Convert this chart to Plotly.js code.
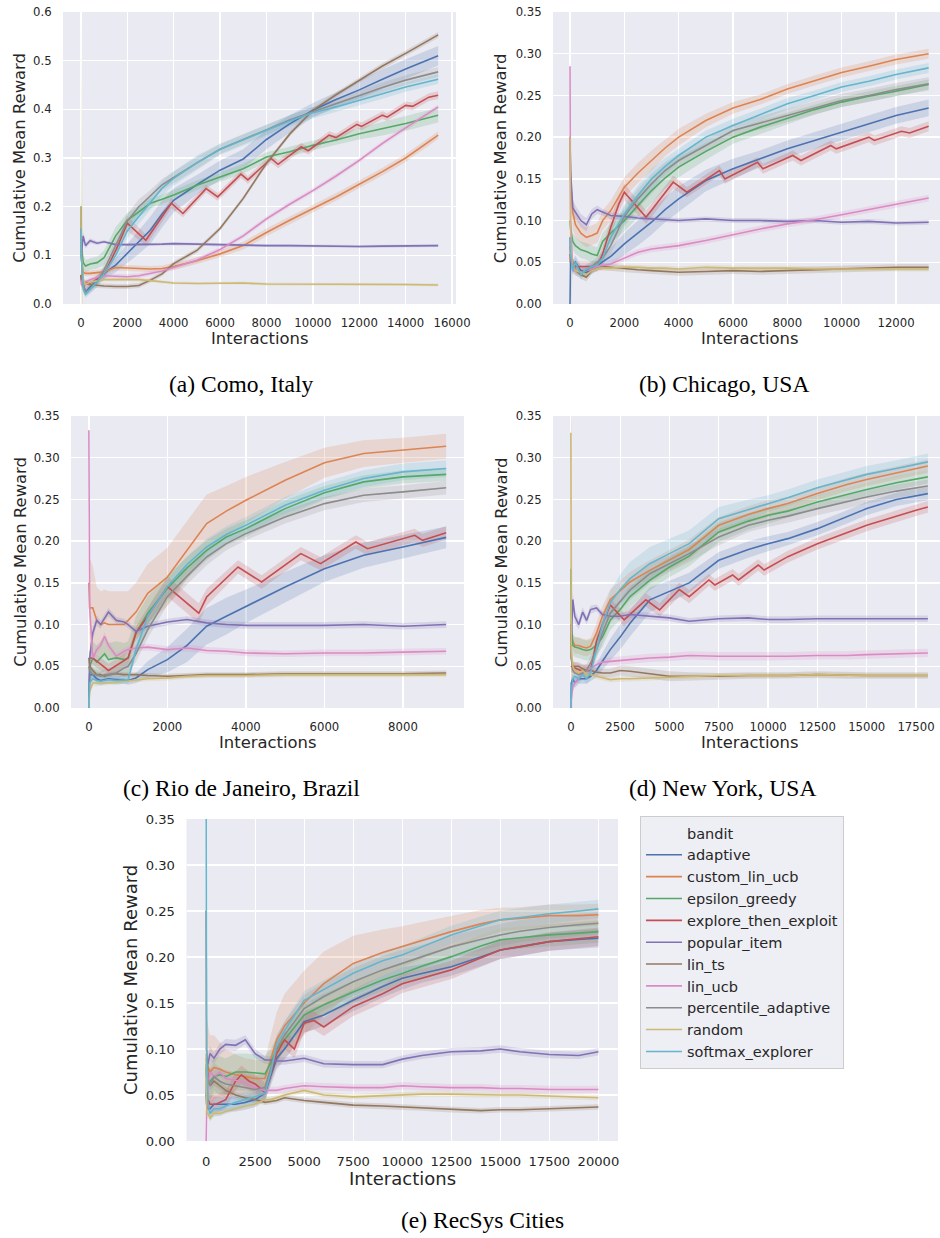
<!DOCTYPE html>
<html><head><meta charset="utf-8">
<script src="https://cdn.plot.ly/plotly-3.0.1.min.js"></script>
<style>html,body{margin:0;padding:0;background:#fff}</style>
</head><body><div id="chart" style="width:940px;height:1238px"></div>
<script>
// ---------------- series names ----------------
const SERIES = ['adaptive','custom_lin_ucb','epsilon_greedy','explore_then_exploit','popular_item','lin_ts','lin_ucb','percentile_adaptive','random','softmax_explorer'];
const LEGEND_TITLE = 'bandit';

// ---------------- (a) Como, Italy ----------------
const como_x = [0,20,100,200,400,700,1000,1500,2000,2500,3000,3500,4000,5000,6000,7000,8000,9000,10000,11000,12000,13000,14000,15400];
const como_adaptive = [0.15,0.10,0.04,0.025,0.035,0.05,0.063,0.08,0.104,0.128,0.152,0.185,0.213,0.245,0.275,0.298,0.338,0.37,0.398,0.42,0.44,0.462,0.483,0.51];
const como_adaptive_ci = [0.02,0.02,0.008,0.008,0.008,0.01,0.012,0.015,0.02,0.025,0.028,0.028,0.025,0.02,0.02,0.02,0.02,0.018,0.015,0.015,0.018,0.02,0.02,0.02];
const como_custom_lin_ucb = [0.2,0.1,0.065,0.063,0.063,0.064,0.066,0.075,0.074,0.073,0.072,0.073,0.077,0.089,0.103,0.12,0.147,0.172,0.196,0.22,0.246,0.272,0.3,0.347];
const como_custom_lin_ucb_ci = [0.01,0.008,0.006,0.006,0.006,0.006,0.006,0.006,0.006,0.006,0.006,0.006,0.007,0.007,0.007,0.008,0.008,0.008,0.008,0.008,0.008,0.008,0.008,0.008];
const como_epsilon_greedy = [0.2,0.12,0.085,0.078,0.082,0.085,0.095,0.14,0.172,0.19,0.207,0.215,0.224,0.244,0.261,0.278,0.302,0.313,0.326,0.337,0.35,0.36,0.371,0.388];
const como_epsilon_greedy_ci = [0.15,0.1,0.015,0.012,0.012,0.012,0.015,0.018,0.015,0.012,0.01,0.01,0.01,0.01,0.01,0.01,0.01,0.01,0.01,0.01,0.012,0.014,0.015,0.015];
const como_ete_x = [0,20,200,500,1000,1300,1600,2000,2800,3900,4400,5400,5900,6900,7200,8200,8500,9500,9800,10700,11000,11900,12100,13000,13200,14000,14300,15000,15400];
const como_explore_then_exploit = [0.06,0.05,0.04,0.045,0.06,0.09,0.12,0.166,0.131,0.207,0.186,0.237,0.22,0.267,0.255,0.299,0.287,0.323,0.315,0.347,0.342,0.369,0.365,0.388,0.384,0.408,0.406,0.425,0.429];
const como_explore_then_exploit_ci = [0.01,0.01,0.008,0.008,0.008,0.01,0.012,0.015,0.012,0.01,0.008,0.008,0.008,0.008,0.008,0.008,0.008,0.008,0.008,0.008,0.008,0.008,0.008,0.008,0.008,0.008,0.008,0.008,0.008];
const como_popular_item = [0.15,0.1,0.14,0.12,0.13,0.125,0.128,0.122,0.122,0.122,0.122,0.123,0.124,0.123,0.121,0.121,0.12,0.12,0.119,0.119,0.118,0.119,0.119,0.12];
const como_popular_item_ci = [0.01,0.01,0.008,0.006,0.005,0.004,0.003,0.003,0.003,0.003,0.003,0.003,0.003,0.003,0.003,0.003,0.003,0.003,0.003,0.003,0.003,0.003,0.003,0.003];
const como_lin_ts = [0.06,0.05,0.035,0.045,0.04,0.038,0.037,0.036,0.036,0.038,0.049,0.062,0.083,0.11,0.155,0.217,0.289,0.349,0.398,0.43,0.46,0.489,0.515,0.553];
const como_lin_ts_ci = [0.01,0.008,0.006,0.005,0.005,0.005,0.005,0.005,0.005,0.005,0.005,0.005,0.005,0.005,0.005,0.005,0.005,0.005,0.005,0.005,0.005,0.006,0.006,0.006];
const como_lin_ucb = [0.05,0.04,0.035,0.045,0.05,0.055,0.058,0.057,0.056,0.058,0.063,0.068,0.075,0.09,0.112,0.14,0.175,0.205,0.233,0.263,0.295,0.33,0.362,0.405];
const como_lin_ucb_ci = [0.01,0.006,0.005,0.005,0.005,0.005,0.005,0.005,0.005,0.005,0.005,0.005,0.005,0.005,0.005,0.005,0.005,0.005,0.005,0.005,0.005,0.005,0.005,0.005];
const como_percentile_adaptive = [0.2,0.1,0.04,0.025,0.03,0.045,0.07,0.12,0.17,0.2,0.222,0.245,0.26,0.29,0.318,0.338,0.358,0.378,0.395,0.412,0.428,0.445,0.46,0.477];
const como_percentile_adaptive_ci = [0.07,0.05,0.01,0.008,0.008,0.01,0.012,0.015,0.015,0.015,0.012,0.012,0.012,0.012,0.01,0.01,0.01,0.01,0.01,0.01,0.01,0.01,0.01,0.01];
const como_random = [0.2,0.1,0.05,0.04,0.045,0.048,0.05,0.05,0.05,0.05,0.048,0.045,0.043,0.042,0.043,0.043,0.041,0.041,0.04,0.04,0.04,0.04,0.04,0.039];
const como_random_ci = [0.4,0.4,0.01,0.006,0.005,0.004,0.004,0.004,0.004,0.004,0.003,0.003,0.003,0.003,0.003,0.003,0.003,0.003,0.003,0.003,0.003,0.003,0.003,0.003];
const como_softmax_explorer = [0.155,0.1,0.03,0.02,0.03,0.045,0.062,0.1,0.15,0.18,0.21,0.238,0.258,0.29,0.318,0.338,0.357,0.376,0.393,0.405,0.418,0.432,0.446,0.462];
const como_softmax_explorer_ci = [0.01,0.01,0.008,0.008,0.008,0.01,0.012,0.015,0.015,0.015,0.015,0.015,0.015,0.015,0.012,0.012,0.012,0.012,0.012,0.01,0.01,0.01,0.01,0.01];

// ---------------- (b) Chicago, USA ----------------
const chi_x = [0,20,100,200,400,600,800,1000,1200,1500,2000,2500,3000,3500,4000,5000,6000,7000,8000,9000,10000,11000,12000,13200];
const chi_adaptive = [0.0,0.06,0.045,0.05,0.04,0.038,0.042,0.046,0.05,0.057,0.072,0.085,0.098,0.113,0.126,0.148,0.162,0.174,0.186,0.196,0.206,0.216,0.226,0.235];
const chi_adaptive_ci = [0.005,0.01,0.008,0.008,0.006,0.006,0.006,0.006,0.008,0.01,0.013,0.015,0.015,0.015,0.015,0.013,0.012,0.01,0.01,0.01,0.01,0.01,0.01,0.01];
const chi_custom_lin_ucb = [0.2,0.15,0.11,0.095,0.085,0.08,0.082,0.085,0.1,0.112,0.14,0.157,0.172,0.187,0.2,0.22,0.235,0.245,0.2576,0.268,0.2775,0.285,0.293,0.30];
const chi_custom_lin_ucb_ci = [0.05,0.03,0.02,0.015,0.012,0.012,0.012,0.012,0.012,0.012,0.012,0.012,0.012,0.01,0.01,0.008,0.007,0.006,0.006,0.006,0.006,0.006,0.006,0.006];
const chi_epsilon_greedy = [0.1,0.09,0.075,0.07,0.065,0.063,0.06,0.058,0.075,0.085,0.1,0.118,0.136,0.151,0.164,0.183,0.2,0.212,0.2226,0.233,0.242,0.249,0.255,0.263];
const chi_epsilon_greedy_ci = [0.02,0.015,0.01,0.01,0.01,0.01,0.01,0.01,0.01,0.012,0.013,0.015,0.015,0.013,0.012,0.01,0.008,0.008,0.007,0.006,0.006,0.006,0.006,0.006];
const chi_ete_x = [0,20,200,500,1000,1200,1500,1800,2000,2800,3800,4300,5500,5700,6900,7100,8200,8500,9600,9800,11000,11200,12200,12500,13200];
const chi_explore_then_exploit = [0.06,0.05,0.045,0.045,0.045,0.06,0.092,0.12,0.134,0.104,0.146,0.134,0.16,0.15,0.17,0.162,0.178,0.172,0.19,0.186,0.2,0.196,0.207,0.205,0.213];
const chi_explore_then_exploit_ci = [0.01,0.008,0.006,0.006,0.006,0.008,0.01,0.01,0.01,0.008,0.008,0.006,0.006,0.006,0.006,0.006,0.006,0.006,0.006,0.006,0.006,0.006,0.006,0.006,0.006];
const chi_popular_item = [0.2,0.16,0.115,0.11,0.1,0.095,0.108,0.113,0.11,0.106,0.105,0.103,0.102,0.101,0.1,0.102,0.1,0.1,0.099,0.1,0.098,0.099,0.097,0.098];
const chi_popular_item_ci = [0.02,0.015,0.01,0.008,0.008,0.008,0.006,0.005,0.004,0.004,0.003,0.003,0.003,0.003,0.003,0.003,0.003,0.003,0.003,0.003,0.003,0.003,0.003,0.003];
const chi_lin_ts = [0.08,0.06,0.05,0.04,0.035,0.032,0.04,0.045,0.045,0.044,0.042,0.041,0.04,0.039,0.038,0.039,0.04,0.039,0.04,0.041,0.042,0.043,0.044,0.044];
const chi_lin_ts_ci = [0.01,0.006,0.005,0.005,0.005,0.005,0.004,0.004,0.004,0.004,0.004,0.004,0.004,0.004,0.004,0.004,0.004,0.004,0.004,0.004,0.004,0.004,0.004,0.004];
const chi_lin_ucb = [0.285,0.1,0.04,0.04,0.038,0.04,0.042,0.045,0.046,0.048,0.055,0.062,0.066,0.068,0.07,0.076,0.083,0.09,0.096,0.101,0.107,0.113,0.119,0.127];
const chi_lin_ucb_ci = [0.01,0.006,0.005,0.004,0.004,0.004,0.004,0.004,0.004,0.004,0.004,0.004,0.004,0.004,0.004,0.004,0.004,0.004,0.004,0.004,0.004,0.004,0.004,0.004];
const chi_percentile_adaptive = [0.07,0.06,0.045,0.04,0.038,0.04,0.045,0.05,0.055,0.07,0.105,0.126,0.144,0.16,0.172,0.19,0.208,0.217,0.226,0.235,0.244,0.25,0.257,0.264];
const chi_percentile_adaptive_ci = [0.01,0.008,0.006,0.006,0.006,0.006,0.006,0.006,0.008,0.01,0.012,0.012,0.012,0.01,0.008,0.008,0.008,0.008,0.008,0.008,0.008,0.008,0.008,0.008];
const chi_random = [0.2,0.07,0.045,0.04,0.038,0.035,0.04,0.042,0.043,0.043,0.044,0.044,0.043,0.043,0.042,0.044,0.043,0.043,0.043,0.042,0.042,0.042,0.042,0.042];
const chi_random_ci = [0.1,0.1,0.005,0.004,0.004,0.004,0.003,0.003,0.003,0.003,0.003,0.003,0.003,0.003,0.003,0.003,0.003,0.003,0.003,0.003,0.003,0.003,0.003,0.003];
const chi_softmax_explorer = [0.08,0.06,0.04,0.05,0.035,0.042,0.045,0.046,0.055,0.08,0.108,0.13,0.15,0.165,0.178,0.2,0.214,0.227,0.24,0.25,0.26,0.267,0.275,0.283];
const chi_softmax_explorer_ci = [0.01,0.008,0.006,0.006,0.006,0.006,0.006,0.006,0.008,0.01,0.012,0.012,0.012,0.01,0.008,0.008,0.008,0.007,0.007,0.006,0.006,0.006,0.006,0.006];

// ---------------- (c) Rio de Janeiro, Brazil ----------------
const rio_x = [0,20,100,200,300,400,500,700,900,1000,1200,1500,2000,2500,3000,3500,4000,5000,6000,7000,8000,9100];
const rio_adaptive = [0.0,0.04,0.04,0.035,0.033,0.034,0.035,0.034,0.034,0.033,0.036,0.046,0.058,0.075,0.098,0.11,0.122,0.145,0.167,0.183,0.193,0.2045];
const rio_adaptive_ci = [0.005,0.006,0.005,0.005,0.005,0.005,0.005,0.005,0.005,0.005,0.006,0.01,0.015,0.02,0.022,0.022,0.02,0.018,0.016,0.015,0.014,0.013];
const rio_custom_lin_ucb = [0.15,0.12,0.12,0.105,0.1,0.102,0.1,0.1,0.1,0.105,0.115,0.1375,0.157,0.189,0.221,0.236,0.249,0.273,0.294,0.305,0.309,0.3137];
const rio_custom_lin_ucb_ci = [0.035,0.06,0.05,0.04,0.04,0.04,0.04,0.04,0.04,0.035,0.035,0.035,0.035,0.035,0.035,0.03,0.028,0.022,0.018,0.016,0.015,0.015];
const rio_epsilon_greedy = [0.0,0.05,0.06,0.055,0.06,0.065,0.058,0.06,0.058,0.06,0.09,0.1136,0.1435,0.168,0.189,0.205,0.215,0.239,0.258,0.271,0.277,0.28];
const rio_epsilon_greedy_ci = [0.01,0.02,0.02,0.02,0.02,0.02,0.02,0.02,0.02,0.02,0.02,0.02,0.015,0.013,0.012,0.01,0.01,0.01,0.008,0.008,0.008,0.008];
const rio_ete_x = [0,100,500,1000,1200,1500,2000,2800,3000,3800,4400,5400,5900,6800,7100,8300,8500,9100];
const rio_explore_then_exploit = [0.06,0.06,0.045,0.06,0.09,0.11,0.1455,0.1136,0.133,0.169,0.151,0.185,0.173,0.199,0.191,0.207,0.201,0.21];
const rio_explore_then_exploit_ci = [0.008,0.008,0.008,0.008,0.008,0.01,0.012,0.012,0.01,0.008,0.008,0.008,0.008,0.008,0.008,0.008,0.008,0.008];
const rio_popular_item = [0.0,0.06,0.09,0.105,0.1,0.108,0.115,0.105,0.103,0.1,0.092,0.098,0.103,0.106,0.102,0.1,0.099,0.099,0.099,0.1,0.098,0.1];
const rio_popular_item_ci = [0.005,0.008,0.008,0.006,0.005,0.005,0.005,0.004,0.004,0.004,0.004,0.004,0.004,0.004,0.004,0.004,0.004,0.004,0.004,0.004,0.004,0.004];
const rio_lin_ts = [0.06,0.05,0.045,0.04,0.04,0.038,0.04,0.041,0.04,0.04,0.04,0.039,0.038,0.039,0.04,0.04,0.04,0.041,0.041,0.041,0.041,0.042];
const rio_lin_ts_ci = [0.005,0.005,0.004,0.003,0.003,0.003,0.003,0.003,0.003,0.003,0.003,0.003,0.003,0.003,0.003,0.003,0.003,0.003,0.003,0.003,0.003,0.003];
const rio_lin_ucb = [0.333,0.12,0.06,0.07,0.075,0.086,0.075,0.062,0.068,0.07,0.072,0.073,0.07,0.072,0.069,0.068,0.066,0.065,0.066,0.066,0.067,0.068];
const rio_lin_ucb_ci = [0.005,0.01,0.006,0.005,0.005,0.005,0.005,0.004,0.004,0.004,0.004,0.004,0.004,0.004,0.004,0.004,0.004,0.004,0.004,0.004,0.004,0.004];
const rio_percentile_adaptive = [0.05,0.045,0.04,0.04,0.038,0.04,0.04,0.042,0.048,0.05,0.065,0.094,0.1335,0.158,0.181,0.197,0.209,0.229,0.245,0.255,0.259,0.264];
const rio_percentile_adaptive_ci = [0.006,0.006,0.006,0.006,0.006,0.006,0.006,0.008,0.008,0.008,0.01,0.01,0.01,0.01,0.01,0.008,0.008,0.008,0.008,0.008,0.008,0.008];
const rio_random = [0.0,0.02,0.03,0.03,0.03,0.03,0.03,0.031,0.032,0.033,0.034,0.035,0.036,0.038,0.039,0.039,0.039,0.04,0.04,0.04,0.04,0.04];
const rio_random_ci = [0.003,0.005,0.004,0.004,0.003,0.003,0.003,0.003,0.003,0.003,0.003,0.003,0.003,0.003,0.003,0.003,0.003,0.003,0.003,0.003,0.003,0.003];
const rio_softmax_explorer = [0.0,0.03,0.035,0.033,0.032,0.033,0.034,0.033,0.034,0.034,0.07,0.11,0.1455,0.172,0.193,0.208,0.219,0.243,0.261,0.275,0.283,0.287];
const rio_softmax_explorer_ci = [0.005,0.005,0.005,0.005,0.005,0.005,0.005,0.005,0.005,0.005,0.008,0.01,0.01,0.01,0.01,0.01,0.01,0.01,0.01,0.01,0.01,0.01];

// ---------------- (d) New York, USA ----------------
const ny_x = [0,20,100,200,400,600,800,1000,1300,1600,2000,2500,3000,4000,5000,6000,7500,9000,10000,11000,12500,14000,15000,16500,18100];
const ny_adaptive = [0.0,0.03,0.035,0.03,0.035,0.035,0.035,0.038,0.045,0.056,0.07,0.085,0.1016,0.1296,0.1395,0.15,0.177,0.19,0.197,0.203,0.215,0.229,0.239,0.25,0.257];
const ny_adaptive_ci = [0.005,0.006,0.006,0.006,0.006,0.006,0.006,0.006,0.008,0.01,0.013,0.015,0.016,0.015,0.013,0.012,0.01,0.01,0.009,0.008,0.008,0.008,0.008,0.008,0.008];
const ny_custom_lin_ucb = [0.1,0.09,0.08,0.075,0.075,0.073,0.072,0.074,0.09,0.11,0.13,0.14,0.151,0.165,0.177,0.19,0.219,0.232,0.239,0.245,0.257,0.268,0.274,0.282,0.29];
const ny_custom_lin_ucb_ci = [0.25,0.25,0.01,0.01,0.01,0.01,0.01,0.01,0.012,0.012,0.012,0.012,0.012,0.012,0.012,0.012,0.01,0.01,0.01,0.008,0.008,0.008,0.008,0.008,0.008];
const ny_epsilon_greedy = [0.167,0.1,0.075,0.073,0.072,0.07,0.069,0.07,0.075,0.085,0.1056,0.118,0.1335,0.153,0.169,0.182,0.211,0.224,0.231,0.236,0.247,0.256,0.262,0.27,0.277];
const ny_epsilon_greedy_ci = [0.02,0.015,0.012,0.012,0.012,0.012,0.012,0.012,0.012,0.012,0.012,0.012,0.012,0.012,0.012,0.012,0.012,0.01,0.01,0.008,0.008,0.008,0.008,0.008,0.008];
const ny_ete_x = [0,500,1000,1300,1600,2000,2700,3800,4500,5500,6000,7000,7300,8200,8500,9500,9800,11000,12500,15000,17500,18100];
const ny_explore_then_exploit = [0.05,0.045,0.045,0.08,0.1,0.1236,0.1056,0.1296,0.1176,0.142,0.1335,0.1535,0.1475,0.1595,0.1535,0.1714,0.1654,0.1814,0.197,0.219,0.237,0.241];
const ny_explore_then_exploit_ci = [0.007,0.007,0.007,0.008,0.008,0.008,0.008,0.008,0.008,0.008,0.008,0.007,0.007,0.007,0.007,0.007,0.007,0.007,0.007,0.007,0.007,0.007];
const ny_popular_item = [0.1,0.08,0.13,0.11,0.1,0.115,0.105,0.118,0.12,0.112,0.11,0.11,0.112,0.11,0.108,0.104,0.107,0.108,0.106,0.106,0.107,0.107,0.107,0.107,0.107];
const ny_popular_item_ci = [0.01,0.01,0.008,0.008,0.006,0.006,0.005,0.005,0.004,0.004,0.004,0.004,0.004,0.004,0.004,0.004,0.004,0.004,0.004,0.004,0.004,0.004,0.004,0.004,0.004];
const ny_lin_ts = [0.09,0.06,0.05,0.05,0.05,0.047,0.045,0.045,0.043,0.042,0.042,0.045,0.044,0.041,0.038,0.038,0.038,0.039,0.039,0.039,0.04,0.039,0.039,0.039,0.039];
const ny_lin_ts_ci = [0.01,0.006,0.005,0.005,0.005,0.005,0.005,0.005,0.005,0.005,0.005,0.006,0.006,0.006,0.006,0.005,0.004,0.004,0.004,0.004,0.004,0.004,0.004,0.004,0.004];
const ny_lin_ucb = [0.0,0.01,0.025,0.03,0.035,0.042,0.045,0.048,0.052,0.055,0.056,0.057,0.058,0.06,0.061,0.063,0.062,0.062,0.062,0.062,0.063,0.063,0.064,0.065,0.066];
const ny_lin_ucb_ci = [0.005,0.005,0.005,0.005,0.005,0.005,0.005,0.005,0.005,0.005,0.005,0.005,0.005,0.005,0.005,0.005,0.005,0.005,0.005,0.005,0.005,0.005,0.005,0.005,0.005];
const ny_percentile_adaptive = [0.08,0.06,0.045,0.042,0.04,0.042,0.045,0.054,0.07,0.09,0.1136,0.128,0.1415,0.161,0.173,0.185,0.205,0.219,0.225,0.23,0.239,0.247,0.253,0.26,0.266];
const ny_percentile_adaptive_ci = [0.01,0.008,0.008,0.008,0.008,0.008,0.008,0.008,0.01,0.012,0.012,0.012,0.012,0.012,0.01,0.01,0.01,0.008,0.008,0.008,0.008,0.008,0.008,0.008,0.008];
const ny_random = [0.33,0.07,0.05,0.045,0.042,0.045,0.04,0.04,0.038,0.036,0.034,0.035,0.035,0.036,0.037,0.038,0.039,0.039,0.039,0.039,0.04,0.039,0.039,0.039,0.039];
const ny_random_ci = [0.02,0.02,0.008,0.005,0.004,0.004,0.004,0.004,0.003,0.003,0.003,0.003,0.003,0.003,0.003,0.003,0.003,0.003,0.003,0.003,0.003,0.003,0.003,0.003,0.003];
const ny_softmax_explorer = [0.0,0.02,0.035,0.038,0.035,0.04,0.035,0.042,0.07,0.1,0.126,0.142,0.155,0.173,0.185,0.197,0.227,0.238,0.245,0.252,0.264,0.274,0.28,0.287,0.295];
const ny_softmax_explorer_ci = [0.005,0.006,0.006,0.006,0.006,0.006,0.006,0.008,0.01,0.012,0.015,0.018,0.02,0.02,0.018,0.016,0.014,0.012,0.01,0.01,0.01,0.01,0.01,0.01,0.01];

// ---------------- (e) RecSys Cities ----------------
const rec_x = [0,20,100,200,400,700,1000,1500,2000,2500,3000,3300,3600,4000,5000,6000,7500,9000,10000,11000,12500,14000,15000,16000,17500,19000,20000];
const rec_adaptive = [0.05,0.04,0.035,0.035,0.04,0.04,0.04,0.04,0.042,0.045,0.052,0.07,0.09,0.1,0.1296,0.137,0.153,0.168,0.1768,0.182,0.1895,0.2,0.2077,0.211,0.2167,0.219,0.2204];
const rec_adaptive_ci = [0.01,0.01,0.008,0.008,0.008,0.008,0.008,0.008,0.008,0.008,0.008,0.01,0.012,0.012,0.012,0.012,0.012,0.012,0.012,0.01,0.01,0.01,0.01,0.01,0.01,0.01,0.01];
const rec_custom_lin_ucb = [0.09,0.085,0.08,0.075,0.08,0.078,0.075,0.072,0.07,0.068,0.068,0.09,0.11,0.125,0.15,0.171,0.193,0.205,0.2113,0.218,0.2276,0.236,0.2404,0.242,0.245,0.245,0.246];
const rec_custom_lin_ucb_ci = [0.05,0.05,0.045,0.04,0.035,0.03,0.025,0.022,0.02,0.02,0.02,0.025,0.03,0.035,0.035,0.035,0.03,0.025,0.022,0.02,0.017,0.015,0.013,0.012,0.012,0.012,0.012];
const rec_epsilon_greedy = [0.084,0.07,0.068,0.065,0.07,0.072,0.07,0.075,0.075,0.074,0.073,0.085,0.1,0.11,0.137,0.148,0.162,0.175,0.182,0.19,0.2004,0.212,0.2186,0.221,0.224,0.226,0.2276];
const rec_epsilon_greedy_ci = [0.02,0.02,0.02,0.02,0.02,0.02,0.02,0.02,0.02,0.02,0.02,0.015,0.013,0.012,0.012,0.012,0.012,0.012,0.012,0.012,0.012,0.012,0.012,0.012,0.012,0.012,0.012];
const rec_ete_x = [0,200,500,1000,1500,1800,2200,2500,3000,3300,3600,4000,4500,5000,5500,6000,7500,9000,10000,12500,15000,17500,20000];
const rec_explore_then_exploit = [0.05,0.04,0.04,0.045,0.065,0.072,0.065,0.062,0.053,0.075,0.095,0.11,0.1,0.128,0.131,0.124,0.146,0.16,0.171,0.186,0.2077,0.2167,0.222];
const rec_explore_then_exploit_ci = [0.01,0.01,0.01,0.01,0.01,0.01,0.01,0.01,0.01,0.01,0.01,0.01,0.01,0.01,0.01,0.01,0.01,0.01,0.01,0.01,0.01,0.01,0.01];
const rec_popular_item = [0.05,0.08,0.085,0.095,0.09,0.1,0.105,0.104,0.11,0.095,0.088,0.088,0.087,0.087,0.09,0.084,0.083,0.083,0.089,0.093,0.097,0.098,0.1,0.097,0.094,0.093,0.097];
const rec_popular_item_ci = [0.01,0.01,0.008,0.008,0.006,0.006,0.006,0.006,0.005,0.005,0.004,0.004,0.004,0.004,0.004,0.004,0.004,0.004,0.004,0.004,0.004,0.004,0.004,0.004,0.004,0.004,0.004];
const rec_lin_ts = [0.25,0.1,0.07,0.06,0.065,0.06,0.055,0.05,0.047,0.045,0.042,0.043,0.044,0.047,0.044,0.042,0.039,0.038,0.037,0.036,0.034,0.033,0.034,0.034,0.035,0.036,0.037];
const rec_lin_ts_ci = [0.01,0.01,0.006,0.005,0.005,0.004,0.004,0.003,0.003,0.003,0.003,0.003,0.003,0.003,0.003,0.003,0.003,0.003,0.003,0.003,0.003,0.003,0.003,0.003,0.003,0.003,0.003];
const rec_lin_ucb = [0.0,0.03,0.06,0.075,0.07,0.075,0.068,0.066,0.063,0.058,0.055,0.055,0.055,0.057,0.06,0.059,0.058,0.058,0.06,0.059,0.058,0.058,0.057,0.057,0.056,0.056,0.056];
const rec_lin_ucb_ci = [0.005,0.008,0.008,0.006,0.006,0.005,0.005,0.004,0.004,0.004,0.004,0.004,0.004,0.004,0.004,0.004,0.004,0.004,0.004,0.004,0.004,0.004,0.004,0.004,0.004,0.004,0.004];
const rec_percentile_adaptive = [0.08,0.07,0.065,0.06,0.07,0.065,0.062,0.06,0.058,0.056,0.058,0.08,0.1,0.115,0.144,0.157,0.173,0.186,0.193,0.2,0.211,0.219,0.224,0.228,0.232,0.235,0.2367];
const rec_percentile_adaptive_ci = [0.02,0.02,0.018,0.018,0.015,0.015,0.015,0.015,0.015,0.015,0.015,0.015,0.015,0.015,0.015,0.015,0.015,0.015,0.015,0.013,0.012,0.012,0.012,0.012,0.012,0.012,0.012];
const rec_random = [0.095,0.03,0.03,0.025,0.03,0.03,0.032,0.035,0.038,0.04,0.045,0.045,0.047,0.05,0.055,0.05,0.048,0.049,0.05,0.051,0.051,0.05,0.05,0.05,0.049,0.048,0.047];
const rec_random_ci = [0.01,0.006,0.005,0.004,0.004,0.003,0.003,0.003,0.003,0.003,0.003,0.003,0.003,0.003,0.003,0.003,0.003,0.003,0.003,0.003,0.003,0.003,0.003,0.003,0.003,0.003,0.003];
const rec_softmax_explorer = [0.4,0.1,0.04,0.03,0.035,0.035,0.038,0.042,0.045,0.048,0.052,0.075,0.105,0.12,0.153,0.165,0.1823,0.196,0.2022,0.211,0.224,0.234,0.2404,0.243,0.247,0.25,0.2523];
const rec_softmax_explorer_ci = [0.01,0.01,0.008,0.008,0.008,0.008,0.008,0.008,0.008,0.008,0.008,0.01,0.01,0.01,0.01,0.01,0.01,0.01,0.01,0.01,0.01,0.01,0.01,0.01,0.01,0.01,0.01];

// ---------------- styling ----------------
const COLORS = ['#4C72B0','#DD8452','#55A868','#C44E52','#8172B3','#937860','#DA8BC3','#8C8C8C','#CCB974','#64B5CD'];
const W = 940, H = 1238;
const TXT = '#262626';

function rgba(hex, a){
  const n = parseInt(hex.slice(1),16);
  return 'rgba('+((n>>16)&255)+','+((n>>8)&255)+','+(n&255)+','+a+')';
}

const PANELS = [
  {pre:'como', x:como_x, ex:como_ete_x, px:[63,456], py:[12,304], xr:[-770,16170], yr:[0,0.6], xd:2000, yd:0.1, yf:'.1f', tf:11.7, af:16.4,
   cap:'(a) Como, Italy', capx:240.5, capy:384, xtx:259.5, xty:339, ytx:19.7, yty:158},
  {pre:'chi', x:chi_x, ex:chi_ete_x, px:[553,940], py:[12,304], xr:[-626,13618], yr:[0,0.35], xd:2000, yd:0.05, yf:'.2f', tf:11.7, af:16.4,
   cap:'(b) Chicago, USA', capx:723.5, capy:384, xtx:749, xty:339, ytx:501.3, yty:158},
  {pre:'rio', x:rio_x, ex:rio_ete_x, px:[71,464], py:[416,708], xr:[-455,9555], yr:[0,0.35], xd:2000, yd:0.05, yf:'.2f', tf:11.7, af:16.4,
   cap:'(c) Rio de Janeiro, Brazil', capx:241, capy:788, xtx:267.5, xty:742.5, ytx:19.7, yty:562},
  {pre:'ny', x:ny_x, ex:ny_ete_x, px:[553,940], py:[416,708], xr:[-905,18715], yr:[0,0.35], xd:2500, yd:0.05, yf:'.2f', tf:11.7, af:16.4,
   cap:'(d) New York, USA', capx:722.5, capy:788, xtx:749, xty:742.5, ytx:501.3, yty:562},
  {pre:'rec', x:rec_x, ex:rec_ete_x, px:[186.5,618], py:[819,1141], xr:[-1000,21000], yr:[0,0.35], xd:2500, yd:0.05, yf:'.2f', tf:13.1, af:18,
   cap:'(e) RecSys Cities', capx:482, capy:1220, xtx:402, xty:1178, ytx:130, yty:980}
];

const DATA = {
  como:{adaptive:[como_adaptive,como_adaptive_ci],custom_lin_ucb:[como_custom_lin_ucb,como_custom_lin_ucb_ci],epsilon_greedy:[como_epsilon_greedy,como_epsilon_greedy_ci],explore_then_exploit:[como_explore_then_exploit,como_explore_then_exploit_ci],popular_item:[como_popular_item,como_popular_item_ci],lin_ts:[como_lin_ts,como_lin_ts_ci],lin_ucb:[como_lin_ucb,como_lin_ucb_ci],percentile_adaptive:[como_percentile_adaptive,como_percentile_adaptive_ci],random:[como_random,como_random_ci],softmax_explorer:[como_softmax_explorer,como_softmax_explorer_ci]},
  chi:{adaptive:[chi_adaptive,chi_adaptive_ci],custom_lin_ucb:[chi_custom_lin_ucb,chi_custom_lin_ucb_ci],epsilon_greedy:[chi_epsilon_greedy,chi_epsilon_greedy_ci],explore_then_exploit:[chi_explore_then_exploit,chi_explore_then_exploit_ci],popular_item:[chi_popular_item,chi_popular_item_ci],lin_ts:[chi_lin_ts,chi_lin_ts_ci],lin_ucb:[chi_lin_ucb,chi_lin_ucb_ci],percentile_adaptive:[chi_percentile_adaptive,chi_percentile_adaptive_ci],random:[chi_random,chi_random_ci],softmax_explorer:[chi_softmax_explorer,chi_softmax_explorer_ci]},
  rio:{adaptive:[rio_adaptive,rio_adaptive_ci],custom_lin_ucb:[rio_custom_lin_ucb,rio_custom_lin_ucb_ci],epsilon_greedy:[rio_epsilon_greedy,rio_epsilon_greedy_ci],explore_then_exploit:[rio_explore_then_exploit,rio_explore_then_exploit_ci],popular_item:[rio_popular_item,rio_popular_item_ci],lin_ts:[rio_lin_ts,rio_lin_ts_ci],lin_ucb:[rio_lin_ucb,rio_lin_ucb_ci],percentile_adaptive:[rio_percentile_adaptive,rio_percentile_adaptive_ci],random:[rio_random,rio_random_ci],softmax_explorer:[rio_softmax_explorer,rio_softmax_explorer_ci]},
  ny:{adaptive:[ny_adaptive,ny_adaptive_ci],custom_lin_ucb:[ny_custom_lin_ucb,ny_custom_lin_ucb_ci],epsilon_greedy:[ny_epsilon_greedy,ny_epsilon_greedy_ci],explore_then_exploit:[ny_explore_then_exploit,ny_explore_then_exploit_ci],popular_item:[ny_popular_item,ny_popular_item_ci],lin_ts:[ny_lin_ts,ny_lin_ts_ci],lin_ucb:[ny_lin_ucb,ny_lin_ucb_ci],percentile_adaptive:[ny_percentile_adaptive,ny_percentile_adaptive_ci],random:[ny_random,ny_random_ci],softmax_explorer:[ny_softmax_explorer,ny_softmax_explorer_ci]},
  rec:{adaptive:[rec_adaptive,rec_adaptive_ci],custom_lin_ucb:[rec_custom_lin_ucb,rec_custom_lin_ucb_ci],epsilon_greedy:[rec_epsilon_greedy,rec_epsilon_greedy_ci],explore_then_exploit:[rec_explore_then_exploit,rec_explore_then_exploit_ci],popular_item:[rec_popular_item,rec_popular_item_ci],lin_ts:[rec_lin_ts,rec_lin_ts_ci],lin_ucb:[rec_lin_ucb,rec_lin_ucb_ci],percentile_adaptive:[rec_percentile_adaptive,rec_percentile_adaptive_ci],random:[rec_random,rec_random_ci],softmax_explorer:[rec_softmax_explorer,rec_softmax_explorer_ci]}
};

const traces = [];
const annotations = [];
const layout = {
  width: W, height: H, autosize: false,
  margin: {l:0, r:0, t:0, b:0},
  paper_bgcolor: '#ffffff', plot_bgcolor: '#EAEAF2',
  showlegend: true, hovermode: false,
  legend: {x: 640/W, y: 1-816/H, xanchor:'left', yanchor:'top', itemwidth:36,
    bgcolor:'rgba(234,234,242,0.8)', bordercolor:'#CCCCCC', borderwidth:1,
    font:{family:'DejaVu Sans', size:14.5, color:TXT}, traceorder:'normal', tracegroupgap:0},
  annotations: annotations
};

PANELS.forEach((p, i) => {
  const s = i === 0 ? '' : String(i+1);
  const xa = 'x'+s, ya = 'y'+s;
  layout['xaxis'+s] = {domain:[p.px[0]/W, p.px[1]/W], range:p.xr, anchor:ya, dtick:p.xd, tick0:0, tickformat:'d',
    showgrid:true, gridcolor:'#ffffff', gridwidth:1.3, zeroline:false, showline:false,
    ticks:'outside', ticklen:8, tickcolor:'rgba(0,0,0,0)',
    tickfont:{family:'DejaVu Sans', size:p.tf, color:TXT}, fixedrange:true};
  layout['yaxis'+s] = {domain:[1-p.py[1]/H, 1-p.py[0]/H], range:[p.yr[0], p.yr[1]+1e-7], anchor:xa, dtick:p.yd, tick0:0, tickformat:p.yf,
    showgrid:true, gridcolor:'#ffffff', gridwidth:1.3, zeroline:false, showline:false,
    ticks:'outside', ticklen:8, tickcolor:'rgba(0,0,0,0)',
    tickfont:{family:'DejaVu Sans', size:p.tf, color:TXT}, fixedrange:true};

  const isLegendPanel = (i === 4);
  if (isLegendPanel) {
    traces.push({type:'scatter', mode:'lines', x:[null], y:[null], xaxis:xa, yaxis:ya, name:LEGEND_TITLE,
      line:{color:'rgba(0,0,0,0)', width:1.6}, showlegend:true, hoverinfo:'skip'});
  }
  SERIES.forEach((name, k) => {
    const xs = name === 'explore_then_exploit' ? p.ex : p.x;
    const [ys, ci] = DATA[p.pre][name];
    const up = ys.map((v,j)=>v+ci[j]);
    const lo = ys.map((v,j)=>v-ci[j]);
    traces.push({type:'scatter', mode:'lines', x: xs.concat(xs.slice().reverse()), y: up.concat(lo.slice().reverse()),
      xaxis:xa, yaxis:ya, fill:'toself', fillcolor:rgba(COLORS[k],0.2), line:{width:0, color:'rgba(0,0,0,0)'},
      showlegend:false, hoverinfo:'skip'});
  });
  SERIES.forEach((name, k) => {
    const xs = name === 'explore_then_exploit' ? p.ex : p.x;
    const [ys] = DATA[p.pre][name];
    traces.push({type:'scatter', mode:'lines', x: xs, y: ys, xaxis:xa, yaxis:ya, name:name,
      line:{color:COLORS[k], width:1.6}, showlegend:isLegendPanel, hoverinfo:'skip'});
  });

  annotations.push({xref:'paper', yref:'paper', x:p.xtx/W, y:1-p.xty/H, xanchor:'center', yanchor:'middle',
    text:'Interactions', showarrow:false, font:{family:'DejaVu Sans', size:p.af, color:TXT}});
  annotations.push({xref:'paper', yref:'paper', x:p.ytx/W, y:1-p.yty/H, xanchor:'center', yanchor:'middle', textangle:-90,
    text:'Cumulative Mean Reward', showarrow:false, font:{family:'DejaVu Sans', size:p.af, color:TXT}});
  annotations.push({xref:'paper', yref:'paper', x:p.capx/W, y:1-p.capy/H, xanchor:'center', yanchor:'middle',
    text:p.cap, showarrow:false, font:{family:'Liberation Serif', size:23.5, color:'#000000'}});
});

Plotly.newPlot('chart', traces, layout, {displayModeBar:false, staticPlot:true});
</script>
</body></html>
